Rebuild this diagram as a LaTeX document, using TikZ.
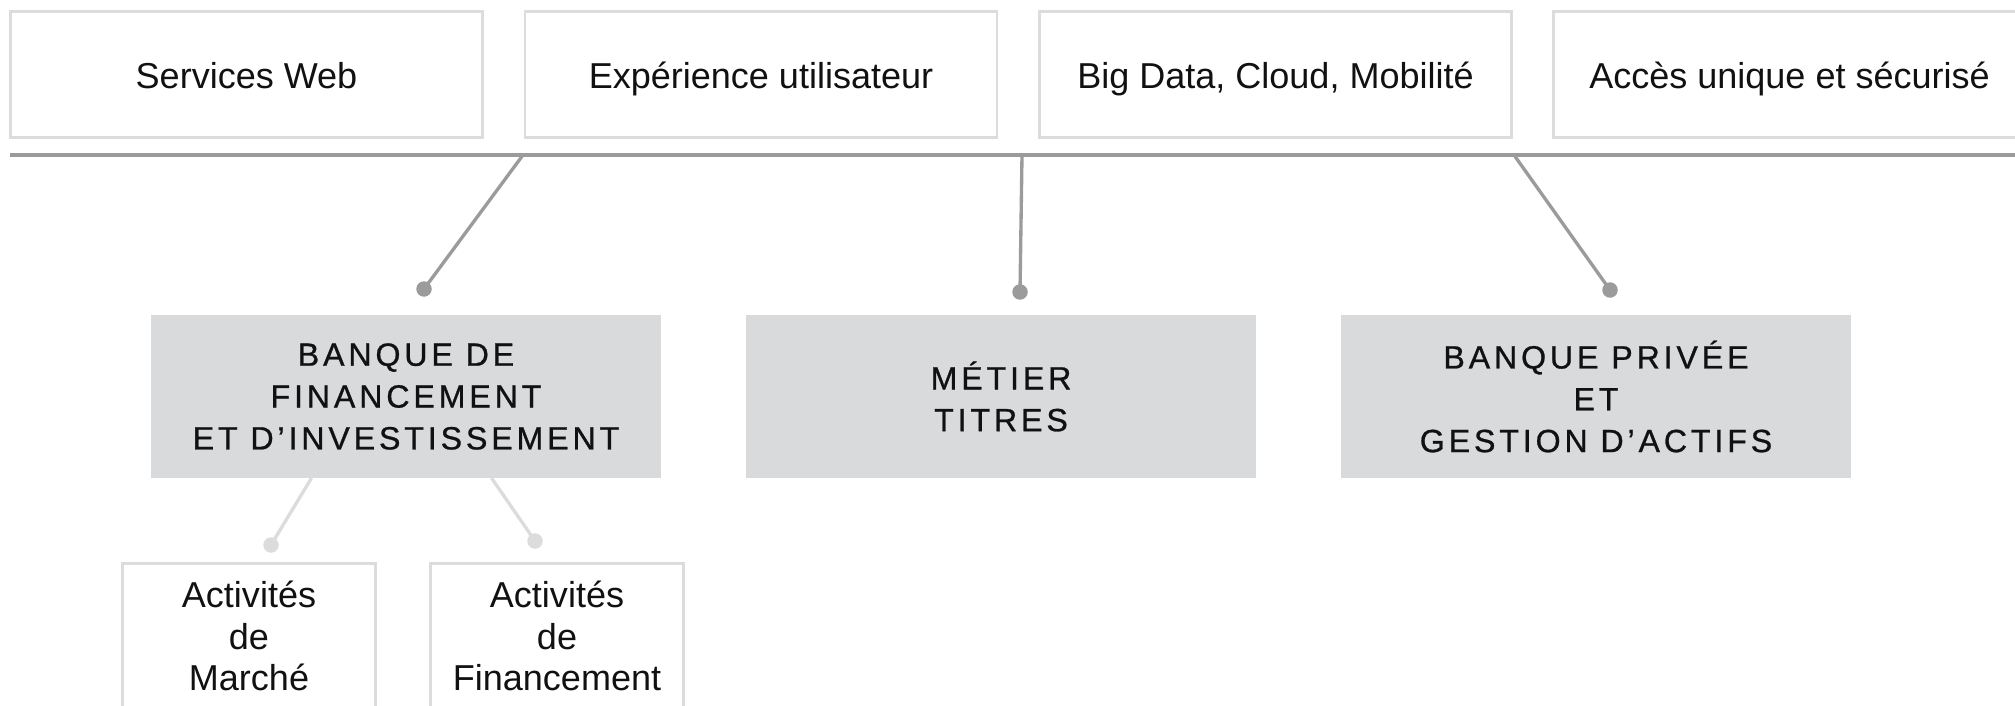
\documentclass[tikz,border=0pt]{standalone}
\usepackage{fontspec}
\setmainfont{Liberation Sans}
\usetikzlibrary{positioning}

\definecolor{boxgray}{HTML}{DCDCDC}
\definecolor{fillgray}{HTML}{D9DADC}
\definecolor{linegray}{HTML}{9B9B9B}
\definecolor{inkblack}{HTML}{111111}

\begin{document}
\begin{tikzpicture}[thick,
    topbox/.style={draw=boxgray, line width=1.6pt, text=inkblack, minimum width=9.44cm, minimum height=2.52cm, inner sep=0pt, text height=18pt, text depth=1.8pt, font=\fontsize{20.5}{24}\selectfont},
    metier/.style={fill=fillgray, text=inkblack, minimum width=10.2cm, minimum height=3.26cm, align=center, font=\fontsize{18.3}{23.8}\selectfont\addfontfeatures{LetterSpace=12,FakeBold=0.8}},
    subbox/.style={draw=boxgray, line width=1.6pt, text=inkblack, minimum width=5.06cm, minimum height=2.9cm, align=center, font=\fontsize{20.5}{23.8}\selectfont},
    bus/.style={draw=linegray, line width=1.9pt},
    sublink/.style={draw=boxgray, line width=1.9pt},
    dot/.style={circle, fill=linegray, inner sep=0pt, minimum size=0.31cm},
    subdot/.style={dot, fill=boxgray}]
    \path[use as bounding box, clip] (0,0) rectangle (40.3,-14.12);

    % technologies
    \node[topbox] (web) at (4.93,-1.49) {Services Web};
    \node[topbox] (ux) at (15.22,-1.49) {Expérience utilisateur};
    \node[topbox] (bigdata) at (25.51,-1.49) {Big Data, Cloud, Mobilité};
    \node[topbox] (acces) at (35.79,-1.49) {Accès unique et sécurisé};

    \coordinate (busleft) at (0.2,-3.1);
    \coordinate (busright) at (40.5,-3.1);
    \coordinate (j1) at (10.46,-3.1);
    \coordinate (j2) at (20.44,-3.1);
    \coordinate (j3) at (30.28,-3.1);
    \draw[bus] (busleft) -- (busright);

    % metiers
    \node[metier] (bfi) at (8.12,-7.93) {BANQUE DE\\FINANCEMENT\\ET D’INVESTISSEMENT};
    \node[metier] (titres) at (20.02,-7.93) {MÉTIER\\TITRES};
    \node[metier] (bpga) at (31.92,-7.93) {BANQUE PRIVÉE\\ET\\GESTION D’ACTIFS};

    \node[dot] (d1) at (8.48,-5.78) {};
    \node[dot] (d2) at (20.4,-5.84) {};
    \node[dot] (d3) at (32.2,-5.8) {};
    \draw[bus] (j1) -- (d1.center);
    \draw[bus] (j2) -- (d2.center);
    \draw[bus] (j3) -- (d3.center);

    % activites
    \node[subbox] (marche) at (4.98,-12.72) {Activités\\de\\Marché};
    \node[subbox] (financement) at (11.14,-12.72) {Activités\\de\\Financement};

    \coordinate (s1) at (6.23,-9.56);
    \coordinate (s2) at (9.83,-9.56);
    \node[subdot] (d4) at (5.42,-10.9) {};
    \node[subdot] (d5) at (10.7,-10.82) {};
    \draw[sublink] (s1) -- (d4.center);
    \draw[sublink] (s2) -- (d5.center);
\end{tikzpicture}
\end{document}
